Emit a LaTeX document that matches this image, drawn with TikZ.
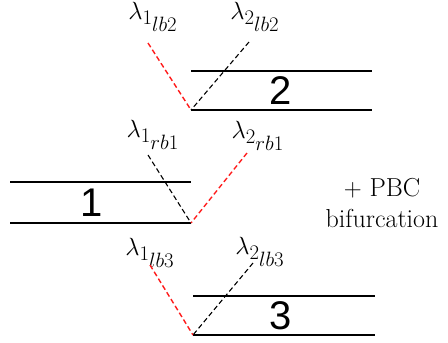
\documentclass[tikz,border=0pt]{standalone}
\usepackage{fontspec}
\newfontfamily\numfont{Liberation Sans}
\usetikzlibrary{positioning}
\definecolor{legred}{HTML}{FF1A1A}

\begin{document}
\begin{tikzpicture}[x=1pt,y=-1pt,
  wall/.style={line width=2.4pt},
  redleg/.style={legred,line width=1.4pt,dash pattern=on 5pt off 3pt},
  blackleg/.style={black,line width=1.1pt,dash pattern=on 5pt off 3pt},
  lam/.style={font=\fontsize{29}{31}\selectfont,inner sep=0pt},
  num/.style={font=\numfont\fontsize{40}{40}\selectfont,inner sep=0pt}]
  \useasboundingbox (0,0) rectangle (448,343);
  % channels
  \foreach \n/\xa/\xb/\yt/\yb/\xn in {
    2/191/372/71/110/281,
    1/10/191/182/223/92,
    3/193/375/296/335/281} {
    \draw[wall] (\xa,\yt) -- (\xb,\yt);
    \draw[wall] (\xa,\yb) -- (\xb,\yb);
    \node[num] (num\n) at (\xn,{(\yt+\yb)/2}) {\n};
  }
  % bifurcation vertices and leg ends
  \coordinate (v2) at (191,110);
  \coordinate (v1) at (191,223);
  \coordinate (v3) at (193,335);
  \coordinate (a2) at (148,43);
  \coordinate (b2) at (249,42);
  \coordinate (a1) at (148,155);
  \coordinate (b1) at (247,153);
  \coordinate (a3) at (150,265);
  \coordinate (b3) at (253,263);
  % labels
  \node[lam] (l1b2) at (153,17) {$\lambda_{1_{\scriptstyle lb2}}$};
  \node[lam] (l2b2) at (255,17) {$\lambda_{2_{\scriptstyle lb2}}$};
  \node[lam] (l1b1) at (153,135) {$\lambda_{1_{\scriptstyle rb1}}$};
  \node[lam] (l2b1) at (258,136) {$\lambda_{2_{\scriptstyle rb1}}$};
  \node[lam] (l1b3) at (150,253) {$\lambda_{1_{\scriptstyle lb3}}$};
  \node[lam] (l2b3) at (260,252) {$\lambda_{2_{\scriptstyle lb3}}$};
  % legs
  \draw[redleg] (a2) -- (v2);
  \draw[blackleg] (b2) -- (v2);
  \draw[blackleg] (a1) -- (v1);
  \draw[redleg] (b1) -- (v1);
  \draw[redleg] (a3) -- (v3);
  \draw[blackleg] (b3) -- (v3);
  \node[font=\fontsize{26}{31}\selectfont,align=center,inner sep=0pt] (pbc)
        at (382,203) {$+$ PBC\\bifurcation};
\end{tikzpicture}
\end{document}
